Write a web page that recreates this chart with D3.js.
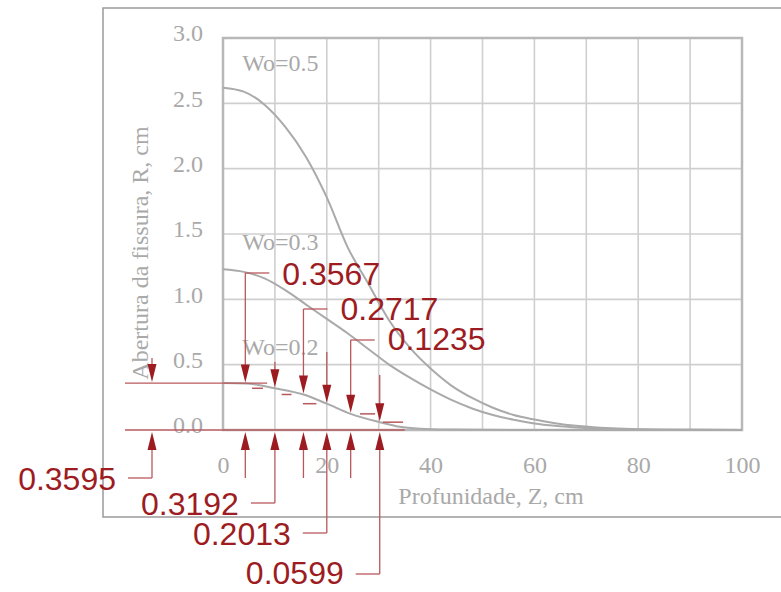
<!DOCTYPE html>
<html><head><meta charset="utf-8">
<script src="https://cdn.jsdelivr.net/npm/d3@7"></script>
<style>html,body{margin:0;padding:0;background:#fff;}svg{display:block;}</style>
</head><body>
<script>
// ---- data ----
const depthZ = [0, 4, 8, 12, 16, 20, 24, 28, 32, 36, 40, 44, 48, 52, 56, 60, 64, 68, 72, 76, 80, 90, 100];
const wo05 = [2.62, 2.59, 2.49, 2.32, 2.09, 1.78, 1.40, 1.12, 0.84, 0.63, 0.47, 0.34, 0.245, 0.17, 0.115, 0.08, 0.052, 0.032, 0.019, 0.011, 0.006, 0.001, 0];
const wo03 = [1.23, 1.21, 1.16, 1.07, 0.96, 0.85, 0.74, 0.62, 0.50, 0.40, 0.31, 0.23, 0.165, 0.115, 0.078, 0.05, 0.032, 0.02, 0.012, 0.007, 0.004, 0.001, 0];
const wo02Z = [0, 4.3, 10, 15.5, 20, 24.6, 30.2, 34, 38, 44, 50, 60, 100];
const wo02 = [0.3595, 0.3567, 0.3192, 0.2717, 0.2013, 0.1235, 0.0599, 0.025, 0.01, 0.003, 0.001, 0, 0];
const seriesNames = ["Wo=0.5", "Wo=0.3", "Wo=0.2"];
const xTicks = [0, 20, 40, 60, 80, 100];
const yTicks = [0, 0.5, 1.0, 1.5, 2.0, 2.5, 3.0];
const annotZ = [0, 4.3, 10, 15.5, 20, 24.6, 30.2];
const annotR = [0.3595, 0.3567, 0.3192, 0.2717, 0.2013, 0.1235, 0.0599];
const annotLabels = ["0.3595", "0.3567", "0.3192", "0.2717", "0.2013", "0.1235", "0.0599"];
const markerR = [0.3192, 0.2717, 0.2013, 0.1235, 0.0599];
const markerZ0 = [5.6, 11.3, 15.4, 26.4, 30.8];
const markerZ1 = [7.7, 13.2, 18.0, 29.3, 34.7];

// ---- layout ----
const W = 781, H = 592;
const svg = d3.select("body").append("svg").attr("width", W).attr("height", H);
svg.append("rect").attr("width", W).attr("height", H).attr("fill", "#fff");
const x = d3.scaleLinear().domain([0, 100]).range([223, 742]);
const y = d3.scaleLinear().domain([0, 3]).range([430, 38]);
const grey = "#a9a9a9", gridC = "#cfcfcf", red = "#9d1c22", redLine = "#b9585c";
const serif = "'Liberation Serif','Times New Roman',serif";
const sans = "'Liberation Sans',Arial,sans-serif";

// outer frame
svg.append("rect").attr("x", 103).attr("y", 8).attr("width", 700).attr("height", 509)
  .attr("fill", "none").attr("stroke", "#9a9a9a").attr("stroke-width", 1.5);

// grid
const g = svg.append("g");
g.selectAll(".vg").data(d3.range(10, 100, 10)).join("line")
  .attr("x1", d => x(d)).attr("x2", d => x(d)).attr("y1", y(3)).attr("y2", y(0))
  .attr("stroke", gridC).attr("stroke-width", 1.6);
g.selectAll(".hg").data(d3.range(0.5, 3, 0.5)).join("line")
  .attr("x1", x(0)).attr("x2", x(100)).attr("y1", d => y(d)).attr("y2", d => y(d))
  .attr("stroke", gridC).attr("stroke-width", 1.6);
g.append("rect").attr("x", x(0)).attr("y", y(3)).attr("width", x(100) - x(0)).attr("height", y(0) - y(3))
  .attr("fill", "none").attr("stroke", "#b8b8b8").attr("stroke-width", 2.5);

// axes (labels only, styled as scanned figure)
const xAxis = d3.axisBottom(x).tickValues(xTicks).tickFormat(d3.format("d")).tickSize(0).tickPadding(26);
const gx = svg.append("g").attr("transform", `translate(0,${y(0)})`).call(xAxis);
gx.select(".domain").remove();
gx.selectAll("text").attr("font-family", serif).attr("font-size", 24).attr("fill", grey);
const yAxis = d3.axisLeft(y).tickValues(yTicks).tickFormat(d3.format(".1f")).tickSize(0).tickPadding(20);
const gy = svg.append("g").attr("transform", `translate(${x(0)},0)`).call(yAxis);
gy.select(".domain").remove();
gy.selectAll("text").attr("font-family", serif).attr("font-size", 24).attr("fill", grey).attr("dy", "0.12em");

svg.append("text").attr("x", 491).attr("y", 504).attr("text-anchor", "middle")
  .attr("font-family", serif).attr("font-size", 24).attr("fill", grey).text("Profunidade, Z, cm");
svg.append("text").attr("transform", "translate(148,253) rotate(-90)").attr("text-anchor", "middle")
  .attr("font-family", serif).attr("font-size", 24).attr("fill", grey).text("Abertura da fissura, R, cm");

// curves
const line = d3.line().x(d => x(d[0])).y(d => y(d[1])).curve(d3.curveMonotoneX);
const curves = [d3.zip(depthZ, wo05), d3.zip(depthZ, wo03), d3.zip(wo02Z, wo02)];
svg.selectAll(".curve").data(curves).join("path").attr("d", line)
  .attr("fill", "none").attr("stroke", "#aaaaaa").attr("stroke-width", 2);

// curve labels
const labelPos = [[3.7, 2.75], [3.7, 1.38], [3.7, 0.575]];
svg.selectAll(".clab").data(seriesNames).join("text")
  .attr("x", (d, i) => x(labelPos[i][0])).attr("y", (d, i) => y(labelPos[i][1]))
  .attr("font-family", serif).attr("font-size", 24).attr("fill", grey).text(d => d);

// ---- red annotations ----
const ann = svg.append("g");
function hline(x1, x2, yy, sw) { ann.append("line").attr("x1", x1).attr("x2", x2).attr("y1", yy).attr("y2", yy).attr("stroke", redLine).attr("stroke-width", sw || 1.3); }
function vline(xx, y1, y2) { ann.append("line").attr("x1", xx).attr("x2", xx).attr("y1", y1).attr("y2", y2).attr("stroke", redLine).attr("stroke-width", 1.3); }
function head(xx, tip, dir) { // dir=1 pointing down, -1 pointing up
  const h = 18 * dir;
  ann.append("path").attr("d", `M${xx},${tip}L${xx - 4.5},${tip - h}L${xx + 4.5},${tip - h}Z`).attr("fill", red);
}
const zeroY = y(0);
// reference lines
hline(125, x(8.5), y(annotR[0]));
hline(125, x(35), zeroY);
// staircase markers
markerR.forEach((r, i) => hline(x(markerZ0[i]), x(markerZ1[i]), y(r), 1.5));

// per-annotation layout: side, leader y, baseline offset, top of down-shaft
const layout = [
  {side: "b", ly: 478, dy: 12, top: 358, ax: x(0) - 71},
  {side: "t", ly: 273, dy: 12},
  {side: "b", ly: 503, dy: 12, top: 362},
  {side: "t", ly: 309, dy: 11},
  {side: "b", ly: 533, dy: 12, top: 352},
  {side: "t", ly: 340, dy: 10},
  {side: "b", ly: 574, dy: 10, top: 375}
];
annotR.forEach((r, i) => {
  const L = layout[i];
  const ax = L.ax !== undefined ? L.ax : x(annotZ[i]);
  const tip = y(r) - 1;
  const top = L.side === "t" ? L.ly : L.top;
  vline(ax, top, tip - 10);
  head(ax, tip, 1);
  const bottom = L.side === "b" ? L.ly : 478;
  vline(ax, zeroY + 12, bottom);
  head(ax, zeroY + 2, -1);
  if (L.side === "t") {
    hline(ax, ax + 24, L.ly);
    ann.append("text").attr("x", ax + 37).attr("y", L.ly + L.dy)
      .attr("font-family", sans).attr("font-size", 32).attr("fill", red).text(annotLabels[i]);
  } else {
    hline(ax - 24, ax, L.ly);
    ann.append("text").attr("x", ax - 36).attr("y", L.ly + L.dy).attr("text-anchor", "end")
      .attr("font-family", sans).attr("font-size", 32).attr("fill", red).text(annotLabels[i]);
  }
});
</script>
</body></html>
